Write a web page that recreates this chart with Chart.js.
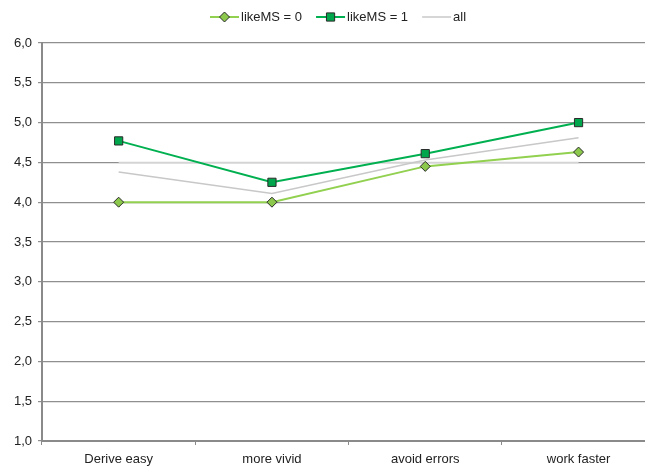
<!DOCTYPE html>
<html lang="en">
<head>
<meta charset="UTF-8" />
<title>likeMS</title>
<style>
  html, body {
    margin: 0;
    padding: 0;
    background: #fff;
    overflow: hidden;
  }
  #wrap {
    width: 662px;
    height: 467px;
  }
</style>
</head>
<body>
<div id="wrap"><canvas id="chart" width="662" height="467"></canvas></div>

<script src="https://cdn.jsdelivr.net/npm/chart.js"></script>
<script>
  // Kategorien und Mittelwerte
  const categories = ['Derive easy', 'more vivid', 'avoid errors', 'work faster'];
  const likeMS0 = [4.0, 4.0, 4.45, 4.63];
  const likeMS1 = [4.77, 4.25, 4.61, 5.0];
  const allUsers = [4.38, 4.11, 4.53, 4.81];
  const midLine = [4.5, 4.5, 4.5, 4.5];

  const FONT = "'Liberation Sans', Arial, sans-serif";

  // Legende wie in Excel: Linie mit Marker in der Mitte
  const legendPlugin = {
    id: 'xlLegend',
    afterDraw(chart) {
      const ctx = chart.ctx;
      const y = 17;
      let x = 210;
      ctx.save();
      ctx.font = '13px ' + FONT;
      ctx.textBaseline = 'middle';
      chart.data.datasets.forEach(ds => {
        if (ds.hideInLegend) return;
        ctx.strokeStyle = ds.borderColor;
        ctx.lineWidth = ds.borderWidth;
        ctx.beginPath();
        ctx.moveTo(x, y);
        ctx.lineTo(x + 29, y);
        ctx.stroke();
        if (ds.pointRadius > 0) {
          ctx.fillStyle = ds.pointBackgroundColor;
          ctx.strokeStyle = ds.pointBorderColor;
          ctx.lineWidth = ds.pointBorderWidth;
          ctx.beginPath();
          drawMarker(ctx, ds.pointStyle, ds.pointRadius, x + 14.5, y);
          ctx.fill();
          ctx.stroke();
        }
        ctx.fillStyle = '#222';
        ctx.fillText(ds.label, x + 31, y);
        x += 31 + ctx.measureText(ds.label).width + 14;
      });
      ctx.restore();
    }
  };

  function drawMarker(ctx, style, r, x, y) {
    if (style === 'rectRot') {
      ctx.moveTo(x, y - r);
      ctx.lineTo(x + r, y);
      ctx.lineTo(x, y + r);
      ctx.lineTo(x - r, y);
      ctx.closePath();
    } else {
      const s = r * Math.SQRT1_2;
      ctx.rect(x - s, y - s, 2 * s, 2 * s);
    }
  }

  const ctx = document.getElementById('chart').getContext('2d');
  new Chart(ctx, {
    type: 'line',
    data: {
      labels: categories,
      datasets: [
        {
          label: 'likeMS = 0',
          data: likeMS0,
          borderColor: '#92D050',
          borderWidth: 2,
          pointStyle: 'rectRot',
          pointRadius: 5,
          pointBackgroundColor: '#8CC84B',
          pointBorderColor: '#2a2a2a',
          pointBorderWidth: 1,
          tension: 0,
          order: 1
        },
        {
          label: 'likeMS = 1',
          data: likeMS1,
          borderColor: '#00B050',
          borderWidth: 2,
          pointStyle: 'rect',
          pointRadius: 5.8,
          pointBackgroundColor: '#00A64B',
          pointBorderColor: '#2a2a2a',
          pointBorderWidth: 1,
          tension: 0,
          order: 0
        },
        {
          label: 'all',
          data: allUsers,
          borderColor: '#C8C8C8',
          borderWidth: 1.5,
          pointRadius: 0,
          tension: 0,
          order: 2
        },
        {
          label: 'mitte',
          data: midLine,
          hideInLegend: true,
          borderColor: '#D4D4D4',
          borderWidth: 1.5,
          pointRadius: 0,
          tension: 0,
          order: 3
        }
      ]
    },
    options: {
      responsive: false,
      animation: false,
      events: [],
      layout: { padding: { top: 43, right: 0, left: 0, bottom: 0 } },
      plugins: {
        legend: { display: false },
        tooltip: { enabled: false }
      },
      scales: {
        x: {
          offset: true,
          afterFit(scale) { scale.height = 26; },
          border: { color: '#8a8a8a', width: 2 },
          grid: {
            offset: true,
            drawOnChartArea: false,
            drawTicks: true,
            tickLength: 4,
            color: '#8a8a8a'
          },
          ticks: {
            color: '#222',
            padding: 7,
            font: { family: FONT, size: 13 }
          }
        },
        y: {
          min: 1,
          max: 6,
          afterFit(scale) { scale.width = 42; },
          border: { color: '#8a8a8a', width: 2 },
          grid: {
            color: '#8f8f8f',
            lineWidth: 1.2,
            tickLength: 4
          },
          ticks: {
            stepSize: 0.5,
            color: '#222',
            padding: 6,
            font: { family: FONT, size: 13 },
            callback: v => v.toFixed(1).replace('.', ',')
          }
        }
      }
    },
    plugins: [legendPlugin]
  });
</script>
</body>
</html>
